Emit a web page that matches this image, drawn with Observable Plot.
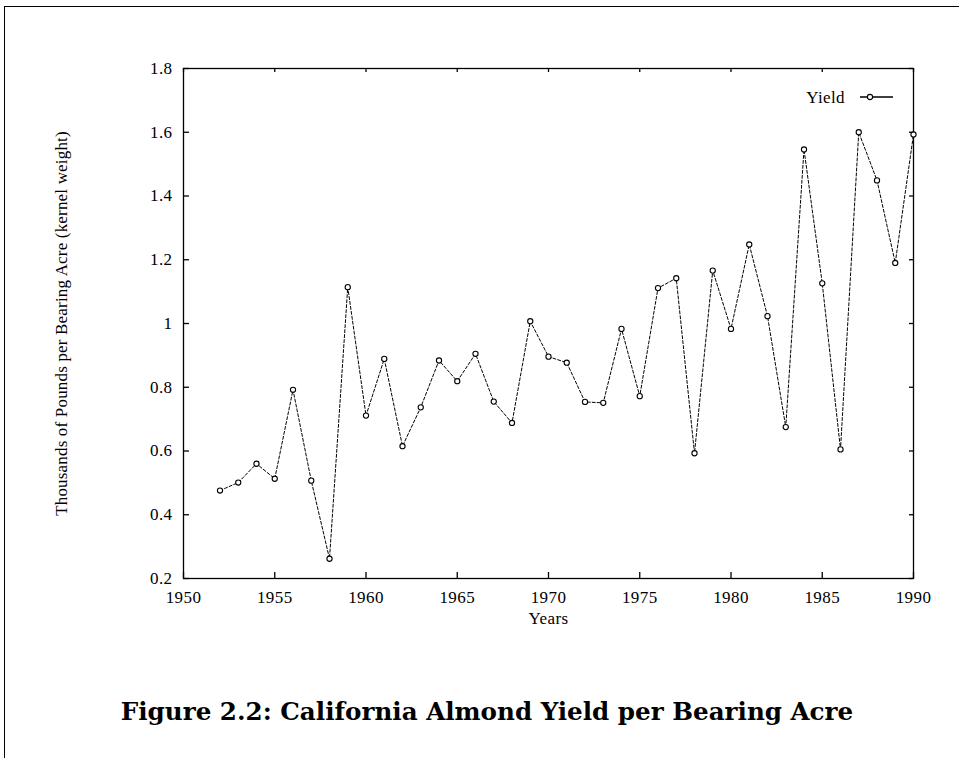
<!DOCTYPE html>
<html>
<head>
<meta charset="utf-8">
<script src="https://cdn.jsdelivr.net/npm/d3@7"></script>
<script src="https://cdn.jsdelivr.net/npm/@observablehq/plot@0.6"></script>
<style>
  body { margin: 0; background: #fff; }
  #page { position: relative; width: 959px; height: 758px; overflow: hidden; }
  #border { position: absolute; left: 4px; top: 6px; width: 960px; height: 760px;
            border-left: 1.5px solid #000; border-top: 1.5px solid #000; }
  #chart { position: absolute; left: 0; top: 0; }
  #caption { position: absolute; left: 0; width: 974px; top: 697px; line-height: 30px; text-align: center;
             font-family: "DejaVu Serif", serif; font-weight: bold; font-size: 24.6px; color: #000; }
</style>
</head>
<body>
<div id="page">
  <div id="border"></div>
  <div id="chart"></div>
  <div id="caption">Figure 2.2: California Almond Yield per Bearing Acre</div>
</div>
<script>
const years = [1952,1953,1954,1955,1956,1957,1958,1959,1960,1961,1962,1963,1964,1965,1966,1967,1968,1969,1970,1971,1972,1973,1974,1975,1976,1977,1978,1979,1980,1981,1982,1983,1984,1985,1986,1987,1988,1989,1990];
const yieldValues = [0.476,0.501,0.560,0.513,0.792,0.507,0.262,1.114,0.711,0.889,0.615,0.737,0.884,0.819,0.905,0.755,0.688,1.007,0.896,0.877,0.754,0.751,0.983,0.772,1.111,1.142,0.593,1.166,0.983,1.248,1.023,0.675,1.546,1.126,0.605,1.600,1.449,1.190,1.593];
const xTicks = [1950,1955,1960,1965,1970,1975,1980,1985,1990];
const yTicks = [0.2,0.4,0.6,0.8,1.0,1.2,1.4,1.6,1.8];
const yTickLabels = ["0.2","0.4","0.6","0.8","1","1.2","1.4","1.6","1.8"];
const seriesName = "Yield";

const data = years.map((y, i) => ({year: y, value: yieldValues[i]}));

const W = 959, H = 640;
const mL = 183, mR = 46, mT = 68, mB = 62;
const pw = W - mL - mR, ph = H - mT - mB;
const tl = 6;

const chart = Plot.plot({
  width: W, height: H,
  marginLeft: mL, marginRight: mR, marginTop: mT, marginBottom: mB,
  style: {fontFamily: "'Liberation Serif', serif", fontSize: "17px", letterSpacing: "0.4px", color: "#000", background: "transparent"},
  x: {domain: [1950, 1990]},
  y: {domain: [0.2, 1.8]},
  marks: [
    Plot.frame({stroke: "#000", strokeWidth: 1.3}),
    Plot.axisX({ticks: xTicks, tickSize: 0, tickPadding: 12, tickFormat: d => String(d),
                label: "Years", labelAnchor: "center", labelArrow: "none", labelOffset: 45}),
    Plot.axisY({ticks: yTicks, tickSize: 0, tickPadding: 11,
                tickFormat: (d, i) => yTickLabels[yTicks.indexOf(d)],
                label: "Thousands of Pounds per Bearing Acre (kernel weight)",
                labelAnchor: "center", labelArrow: "none", labelOffset: 129}),
    // inward tick marks on all four sides
    Plot.tickX(xTicks, {x: d => d, insetTop: ph - tl, stroke: "#000", strokeWidth: 1.3}),
    Plot.tickX(xTicks, {x: d => d, insetBottom: ph - tl + 2, stroke: "#000", strokeWidth: 1.3}),
    Plot.tickY(yTicks, {y: d => d, insetRight: pw - tl, stroke: "#000", strokeWidth: 1.3}),
    Plot.tickY(yTicks, {y: d => d, insetLeft: pw - tl + 2, stroke: "#000", strokeWidth: 1.3}),
    Plot.line(data, {x: "year", y: "value", stroke: "#000", strokeWidth: 1, strokeDasharray: "3,2"}),
    Plot.dot(data, {x: "year", y: "value", r: 2.6, stroke: "#000", fill: "#fff", strokeWidth: 1.1})
  ]
});
document.getElementById("chart").appendChild(chart);

const svg = d3.select(chart);
svg.selectAll('g[aria-label="y-axis label"]').attr("letter-spacing", "0.18px");

// legend (inside the frame, top right)
const lg = svg.append("g").attr("transform", "translate(845, 97)")
  .attr("font-family", "'Liberation Serif', serif").attr("font-size", "17px");
lg.append("text").attr("text-anchor", "end").attr("dy", "0.35em").text(seriesName);
lg.append("line").attr("x1", 15).attr("x2", 48).attr("y1", 0).attr("y2", 0)
  .attr("stroke", "#000").attr("stroke-width", 1.3);
lg.append("circle").attr("cx", 25).attr("cy", 0).attr("r", 2.6)
  .attr("fill", "#fff").attr("stroke", "#000").attr("stroke-width", 1.1);
</script>
</body>
</html>
